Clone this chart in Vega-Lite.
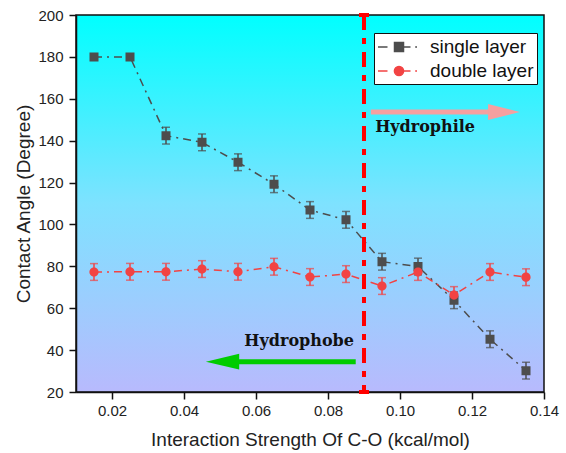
{
  "$schema": "https://vega.github.io/schema/vega-lite/v6.json",
  "width": 468,
  "height": 377,
  "autosize": {"type": "none"},
  "padding": {"left": 76, "top": 15, "right": 22, "bottom": 61},
  "background": "white",
  "config": {
    "font": "Liberation Sans",
    "view": {
      "stroke": "#111111",
      "strokeWidth": 1.5,
      "fill": {"gradient": "linear", "x1": 0, "y1": 0, "x2": 0, "y2": 1,
        "stops": [{"offset": 0, "color": "#00ffff"}, {"offset": 0.5, "color": "#7ee2ff"}, {"offset": 1, "color": "#b8bafd"}]}
    },
    "axis": {
      "grid": false,
      "domainColor": "#111111",
      "domainWidth": 1.5,
      "tickColor": "#111111",
      "tickWidth": 1.5,
      "labelFontSize": 15,
      "labelColor": "#222222",
      "titleFontSize": 19,
      "titleFontWeight": "normal",
      "titleColor": "#222222"
    },
    "legend": {
      "orient": "none",
      "legendX": 298,
      "legendY": 18,
      "fillColor": "white",
      "strokeColor": "#111111",
      "padding": 3,
      "labelFontSize": 19,
      "labelColor": "#111111",
      "labelFont": "Liberation Sans",
      "symbolSize": 400,
      "symbolOffset": 11,
      "labelOffset": 20,
      "rowPadding": 3,
      "symbolStrokeWidth": 1.5,
      "symbolOpacity": 1
    }
  },
  "datasets": {
    "series": [
      {"x": 0.015, "y": 180, "err": 1, "series": "single layer"},
      {"x": 0.025, "y": 180, "err": 1, "series": "single layer"},
      {"x": 0.035, "y": 142.4, "err": 4, "series": "single layer"},
      {"x": 0.045, "y": 139.2, "err": 4, "series": "single layer"},
      {"x": 0.055, "y": 129.7, "err": 4, "series": "single layer"},
      {"x": 0.065, "y": 119.2, "err": 4, "series": "single layer"},
      {"x": 0.075, "y": 106.9, "err": 4, "series": "single layer"},
      {"x": 0.085, "y": 102.2, "err": 4, "series": "single layer"},
      {"x": 0.095, "y": 82.2, "err": 4, "series": "single layer"},
      {"x": 0.105, "y": 79.9, "err": 4, "series": "single layer"},
      {"x": 0.115, "y": 63.8, "err": 4, "series": "single layer"},
      {"x": 0.125, "y": 45.2, "err": 4, "series": "single layer"},
      {"x": 0.135, "y": 30.2, "err": 4, "series": "single layer"},
      {"x": 0.015, "y": 77.3, "err": 4, "series": "double layer"},
      {"x": 0.025, "y": 77.4, "err": 4, "series": "double layer"},
      {"x": 0.035, "y": 77.4, "err": 4, "series": "double layer"},
      {"x": 0.045, "y": 78.7, "err": 4, "series": "double layer"},
      {"x": 0.055, "y": 77.4, "err": 4, "series": "double layer"},
      {"x": 0.065, "y": 79.8, "err": 4, "series": "double layer"},
      {"x": 0.075, "y": 74.9, "err": 4, "series": "double layer"},
      {"x": 0.085, "y": 76.3, "err": 4, "series": "double layer"},
      {"x": 0.095, "y": 70.6, "err": 4, "series": "double layer"},
      {"x": 0.105, "y": 77.3, "err": 4, "series": "double layer"},
      {"x": 0.115, "y": 66.3, "err": 4, "series": "double layer"},
      {"x": 0.125, "y": 77.3, "err": 4, "series": "double layer"},
      {"x": 0.135, "y": 74.8, "err": 4, "series": "double layer"}
    ]
  },
  "layer": [
    {
      "data": {"name": "series"},
      "mark": {"type": "line", "strokeWidth": 1.5, "strokeDash": [8, 5, 2, 5]},
      "encoding": {
        "x": {
          "field": "x", "type": "quantitative",
          "title": "Interaction Strength Of C-O (kcal/mol)",
          "scale": {"domain": [0.01, 0.14], "nice": false, "zero": false},
          "axis": {
            "values": [0.02, 0.04, 0.06, 0.08, 0.10, 0.12, 0.14],
            "format": ".2f",
            "tickSize": 7,
            "labelFlush": false,
            "labelOverlap": false,
            "labelPadding": 4,
            "titlePadding": 12
          }
        },
        "y": {
          "field": "y", "type": "quantitative",
          "title": "Contact Angle (Degree)",
          "scale": {"domain": [20, 200], "nice": false, "zero": false},
          "axis": {
            "values": [20, 30, 40, 50, 60, 70, 80, 90, 100, 110, 120, 130, 140, 150, 160, 170, 180, 190, 200],
            "labelExpr": "datum.value % 20 == 0 ? datum.label : ''",
            "tickSize": {"condition": {"test": "datum.value % 20 != 0", "value": -4}, "value": 7},
            "labelPadding": 6,
            "titlePadding": 4
          }
        },
        "color": {
          "field": "series", "type": "nominal", "title": null,
          "scale": {"domain": ["single layer", "double layer"], "range": ["#4d4d4d", "#f24343"]}
        }
      }
    },
    {
      "data": {"name": "series"},
      "mark": {"type": "errorbar", "ticks": {"size": 8, "thickness": 1.5}, "thickness": 1.5},
      "encoding": {
        "x": {"field": "x", "type": "quantitative", "title": "Interaction Strength Of C-O (kcal/mol)"},
        "y": {"field": "y", "type": "quantitative", "title": "Contact Angle (Degree)"},
        "yError": {"field": "err"},
        "color": {"field": "series", "type": "nominal", "title": null}
      }
    },
    {
      "data": {"name": "series"},
      "mark": {"type": "point", "filled": true, "opacity": 1, "size": 400, "strokeWidth": 0},
      "encoding": {
        "x": {"field": "x", "type": "quantitative"},
        "y": {"field": "y", "type": "quantitative"},
        "color": {"field": "series", "type": "nominal", "title": null},
        "shape": {
          "field": "series", "type": "nominal", "title": null,
          "scale": {
            "domain": ["single layer", "double layer"],
            "range": [
              "M-2.1,0L-1.15,0M-0.45,-0.45L0.45,-0.45L0.45,0.45L-0.45,0.45ZM0.45,0L1.15,0M1.62,0L1.8,0",
              "M-2.1,0L-1.15,0M-0.46,0A0.46,0.46 0 1,0 0.46,0A0.46,0.46 0 1,0 -0.46,0ZM0.46,0L1.15,0M1.62,0L1.8,0"
            ]
          }
        }
      }
    },
    {
      "data": {"values": [{"x": 0.09}]},
      "mark": {"type": "rule", "color": "#ff0000", "strokeWidth": 4, "strokeDash": [15, 8, 6, 8]},
      "encoding": {"x": {"field": "x", "type": "quantitative"}}
    },
    {
      "data": {"values": [{"x": 0.09, "y": 200}, {"x": 0.09, "y": 20}]},
      "mark": {"type": "tick", "orient": "horizontal", "color": "#ff0000", "size": 10, "thickness": 4, "opacity": 1},
      "encoding": {"x": {"field": "x", "type": "quantitative"}, "y": {"field": "y", "type": "quantitative"}}
    },
    {
      "data": {"values": [{"x": 0.0919, "x2": 0.1250, "y": 153.7}]},
      "mark": {"type": "rule", "color": "#f5a0a0", "strokeWidth": 5},
      "encoding": {"x": {"field": "x", "type": "quantitative"}, "x2": {"field": "x2"}, "y": {"field": "y", "type": "quantitative"}}
    },
    {
      "data": {"values": [{"x": 0.1289, "y": 153.7}]},
      "mark": {"type": "point", "filled": true, "opacity": 1, "color": "#f5a0a0", "size": 1024, "shape": "M-1,-0.5L1,0L-1,0.5Z"},
      "encoding": {"x": {"field": "x", "type": "quantitative"}, "y": {"field": "y", "type": "quantitative"}}
    },
    {
      "data": {"values": [{"x": 0.0547, "x2": 0.0877, "y": 34.5}]},
      "mark": {"type": "rule", "color": "#00cc00", "strokeWidth": 5},
      "encoding": {"x": {"field": "x", "type": "quantitative"}, "x2": {"field": "x2"}, "y": {"field": "y", "type": "quantitative"}}
    },
    {
      "data": {"values": [{"x": 0.0507, "y": 34.5}]},
      "mark": {"type": "point", "filled": true, "opacity": 1, "color": "#00cc00", "size": 1109, "shape": "M1,-0.48L-1,0L1,0.48Z"},
      "encoding": {"x": {"field": "x", "type": "quantitative"}, "y": {"field": "y", "type": "quantitative"}}
    },
    {
      "data": {"values": [{"x": 0.0931, "y": 144.2, "label": "Hydrophile"}]},
      "mark": {"type": "text", "align": "left", "baseline": "alphabetic", "font": "DejaVu Serif", "fontWeight": "bold", "fontSize": 16, "color": "#111111"},
      "encoding": {"x": {"field": "x", "type": "quantitative"}, "y": {"field": "y", "type": "quantitative"}, "text": {"field": "label"}}
    },
    {
      "data": {"values": [{"x": 0.0872, "y": 42, "label": "Hydrophobe"}]},
      "mark": {"type": "text", "align": "right", "baseline": "alphabetic", "font": "DejaVu Serif", "fontWeight": "bold", "fontSize": 16, "color": "#111111"},
      "encoding": {"x": {"field": "x", "type": "quantitative"}, "y": {"field": "y", "type": "quantitative"}, "text": {"field": "label"}}
    }
  ]
}
